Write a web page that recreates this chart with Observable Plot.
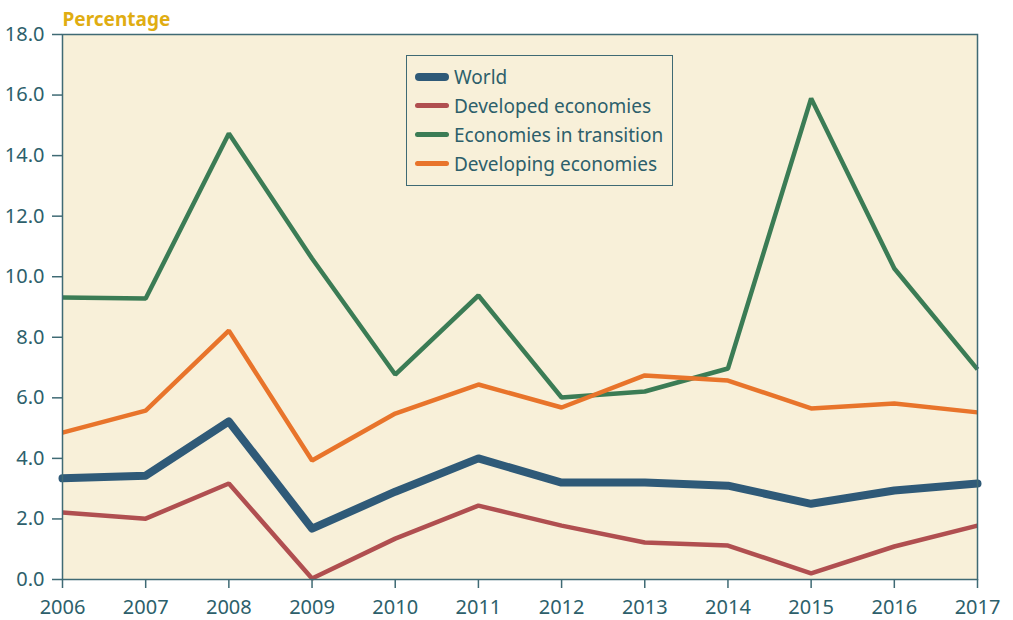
<!DOCTYPE html>
<html>
<head>
<meta charset="utf-8">
<script src="https://cdn.jsdelivr.net/npm/d3@7"></script>
<script src="https://cdn.jsdelivr.net/npm/@observablehq/plot@0.6"></script>
<style>
  body { margin: 0; background: #ffffff; font-family: "Noto Sans", sans-serif; }
  #wrap { position: relative; width: 1013px; height: 620px; }
  #legend { position: absolute; left: 406px; top: 55px; width: 267px; height: 131px;
    background: #f8f0d9; border: 1.5px solid #3f6a74; box-sizing: border-box; padding-top: 6px; }
  .item { display: flex; align-items: center; height: 29px; margin-left: 8px; }
  .sw { width: 34px; border-radius: 4px; margin-right: 5px; }
  .lbl { font-size: 19px; color: #2d5f6b; }
</style>
</head>
<body>
<div id="wrap">
  <div id="chart"></div>
  <div id="legend"></div>
</div>
<script>
const years = [2006, 2007, 2008, 2009, 2010, 2011, 2012, 2013, 2014, 2015, 2016, 2017];
const world = [3.34, 3.43, 5.22, 1.68, 2.90, 4.00, 3.20, 3.20, 3.10, 2.50, 2.94, 3.17];
const developed = [2.21, 2.01, 3.17, 0.03, 1.35, 2.44, 1.78, 1.22, 1.12, 0.20, 1.09, 1.78];
const transition = [9.31, 9.28, 14.73, 10.60, 6.77, 9.38, 6.01, 6.21, 6.97, 15.89, 10.27, 6.94];
const developing = [4.85, 5.58, 8.22, 3.93, 5.48, 6.44, 5.68, 6.74, 6.57, 5.65, 5.81, 5.52];
const seriesNames = ["World", "Developed economies", "Economies in transition", "Developing economies"];
const seriesColors = ["#2f5a78", "#b04f50", "#3b7c55", "#e8742b"];
const seriesWidths = [8, 4.5, 4.5, 4.5];
const yTicks = [0, 2, 4, 6, 8, 10, 12, 14, 16, 18];

const seriesValues = [world, developed, transition, developing];
const rows = [];
seriesNames.forEach((name, i) => years.forEach((yr, j) => rows.push({series: name, year: yr, value: seriesValues[i][j]})));

const axisColor = "#3f6a74";
const textColor = "#2d5f6b";

const lineMarks = [];
[2, 3, 1, 0].forEach(i => {
  lineMarks.push(Plot.line(rows.filter(r => r.series === seriesNames[i]), {
    x: "year", y: "value", stroke: seriesColors[i], strokeWidth: seriesWidths[i],
    strokeLinejoin: i === 0 ? "round" : "miter", strokeLinecap: i === 0 ? "round" : "butt"
  }));
});

const chart = Plot.plot({
  width: 1013,
  height: 620,
  marginLeft: 62,
  marginRight: 36,
  marginTop: 34,
  marginBottom: 41,
  style: { fontFamily: "Noto Sans, sans-serif", fontSize: "20px", color: textColor, background: "transparent" },
  x: { domain: [2006, 2017], label: null },
  y: { domain: [0, 18], label: null },
  marks: [
    Plot.frame({ fill: "#f8f0d9", stroke: null }),
    ...lineMarks,
    Plot.frame({ stroke: axisColor, strokeWidth: 1.5 }),
    Plot.axisX({ ticks: years, tickFormat: d => String(d), tickSize: 9, tickPadding: 11, stroke: axisColor, strokeWidth: 1.5, fill: textColor, fontSize: 20, label: null }),
    Plot.axisY({ ticks: yTicks, tickFormat: d3.format(".1f"), tickSize: 10, tickPadding: 8, stroke: axisColor, strokeWidth: 1.5, fill: textColor, fontSize: 20, label: null }),
    Plot.text(["Percentage"], { frameAnchor: "top-left", text: d => d, dy: -22, dx: 0, textAnchor: "start",
      fill: "#e0ad12", fontWeight: "bold", fontSize: 19 })
  ]
});
document.getElementById("chart").appendChild(chart);

const legend = document.getElementById("legend");
seriesNames.forEach((name, i) => {
  const item = document.createElement("div");
  item.className = "item";
  const sw = document.createElement("div");
  sw.className = "sw";
  sw.style.height = (i === 0 ? 8 : 4.5) + "px";
  sw.style.background = seriesColors[i];
  const lbl = document.createElement("span");
  lbl.className = "lbl";
  lbl.textContent = name;
  item.appendChild(sw);
  item.appendChild(lbl);
  legend.appendChild(item);
});
</script>
</body>
</html>
